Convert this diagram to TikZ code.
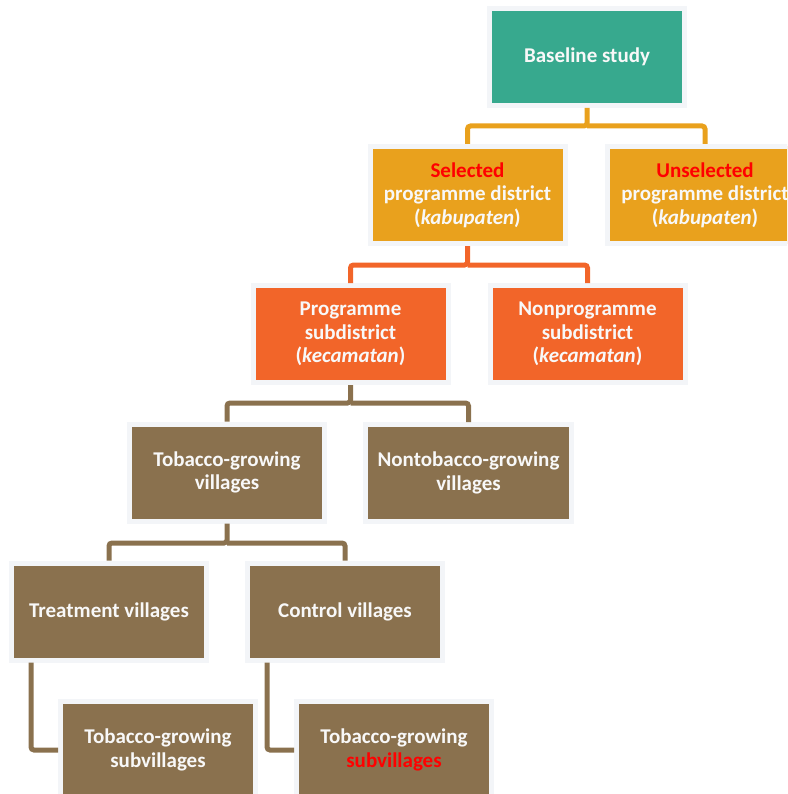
\documentclass[tikz,border=0pt]{standalone}
\usepackage{fontspec}
\setmainfont{Carlito}
\definecolor{teal}{HTML}{37A98E}
\definecolor{gold}{HTML}{E9A11D}
\definecolor{orng}{HTML}{F26529}
\definecolor{brwn}{HTML}{8A714E}
\definecolor{rim}{HTML}{F3F5F8}
\definecolor{txt}{HTML}{F8F8F8}
\definecolor{hl}{HTML}{FF0000}
\tikzset{
  box/.style={draw=rim, line width=5pt, rectangle, inner sep=2pt,
    minimum width=195pt, minimum height=97pt, align=center,
    text=txt, font=\fontsize{21}{23.5}\selectfont\bfseries, anchor=center},
  link/.style={line width=5pt, rounded corners=3pt},
}
\begin{document}
\begin{tikzpicture}[x=1pt,y=-1pt]
\useasboundingbox (0,0) rectangle (787,794);
\clip (0,0) rectangle (787,794);
\node[box, fill=teal] (base) at (587,57) {Baseline study};
\node[box, fill=gold] (sel) at (467.5,195) {\textcolor{hl}{Selected}\\programme district\\(\textit{kabupaten})};
\node[box, fill=gold] (unsel) at (705,195) {\textcolor{hl}{Unselected}\\programme district\\(\textit{kabupaten})};
\node[box, fill=orng] (prog) at (350.5,334) {Programme\\subdistrict\\(\textit{kecamatan})};
\node[box, fill=orng] (nonprog) at (587.5,334) {Nonprogramme\\subdistrict\\(\textit{kecamatan})};
\node[box, fill=brwn] (tob) at (227,472.5) {Tobacco-growing\\villages};
\node[box, fill=brwn, minimum width=206pt] (nontob) at (468.5,473) {Nontobacco-growing\\villages};
\node[box, fill=brwn] (treat) at (109,611.5) {Treatment villages};
\node[box, fill=brwn] (ctrl) at (345,611.5) {Control villages};
\node[box, fill=brwn] (sub1) at (158,750) {Tobacco-growing\\subvillages};
\node[box, fill=brwn] (sub2) at (394,750) {Tobacco-growing\\\textcolor{hl}{subvillages}};
% level 1
\draw[link, gold] (base.south) -- (587,126) -| (sel.north);
\draw[link, gold] (587,126) -| (unsel.north);
% level 2
\draw[link, orng] (sel.south) -- (467.5,265) -| (prog.north);
\draw[link, orng] (467.5,265) -| (nonprog.north);
% level 3
\draw[link, brwn] (prog.south) -- (350.5,403) -| (tob.north);
\draw[link, brwn] (350.5,403) -| (nontob.north);
% level 4
\draw[link, brwn] (tob.south) -- (227,543) -| (treat.north);
\draw[link, brwn] (227,543) -| (ctrl.north);
% level 5
\coordinate (t1) at (31,0);
\coordinate (c1) at (267,0);
\draw[link, brwn] (treat.south -| t1) |- (sub1.west);
\draw[link, brwn] (ctrl.south -| c1) |- (sub2.west);
\end{tikzpicture}
\end{document}
